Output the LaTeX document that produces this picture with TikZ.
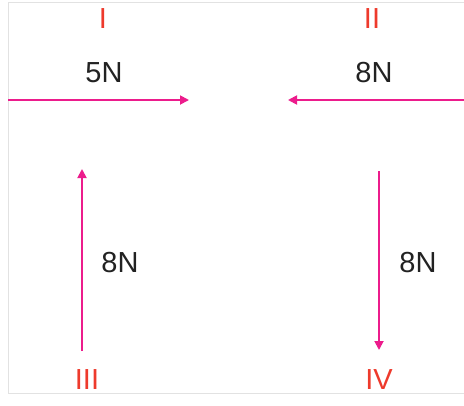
\documentclass[tikz,border=0pt]{standalone}
\usepackage{fontspec}
\setmainfont{Liberation Sans}
\usetikzlibrary{arrows.meta}
\definecolor{force}{HTML}{EC1C8C}
\definecolor{roman}{HTML}{EE3A2C}
\definecolor{txt}{HTML}{222222}
\definecolor{frame}{HTML}{E2E2E2}
\begin{document}
\begin{tikzpicture}[x=1pt,y=-1pt,
  forcearrow/.style={draw=force,line width=1.8pt,-{Triangle[length=9pt,width=9pt]}},
  numeral/.style={text=roman,font=\fontsize{29}{33}\selectfont,inner sep=0pt},
  magnitude/.style={text=txt,font=\fontsize{29}{33}\selectfont,inner sep=0pt}]
\useasboundingbox (0,0) rectangle (464,405);
\fill[white] (0,0) rectangle (464,405);
% faint frame
\coordinate (ftr) at (464,2);
\coordinate (ftl) at (8,2);
\coordinate (fbl) at (8,393);
\coordinate (fbr) at (464,393);
\draw[frame,line width=1pt] (ftr) -- (ftl) -- (fbl) -- (fbr);
% I
\node[numeral] (nI) at (103,19) {I};
\node[magnitude] (m1) at (104,73) {5N};
\coordinate (a1s) at (8,100);
\coordinate (a1e) at (189,100);
\draw[forcearrow] (a1s) -- (a1e);
% II
\node[numeral] (nII) at (372,19) {II};
\node[magnitude] (m2) at (374,73) {8N};
\coordinate (a2s) at (464,100);
\coordinate (a2e) at (288,100);
\draw[forcearrow] (a2s) -- (a2e);
% III
\coordinate (a3s) at (82,351);
\coordinate (a3e) at (82,169);
\draw[forcearrow] (a3s) -- (a3e);
\node[magnitude] (m3) at (120,263) {8N};
\node[numeral] (nIII) at (87,380) {III};
% IV
\coordinate (a4s) at (379,171);
\coordinate (a4e) at (379,350);
\draw[forcearrow] (a4s) -- (a4e);
\node[magnitude] (m4) at (418,263) {8N};
\node[numeral] (nIV) at (379,380) {IV};
\end{tikzpicture}
\end{document}
